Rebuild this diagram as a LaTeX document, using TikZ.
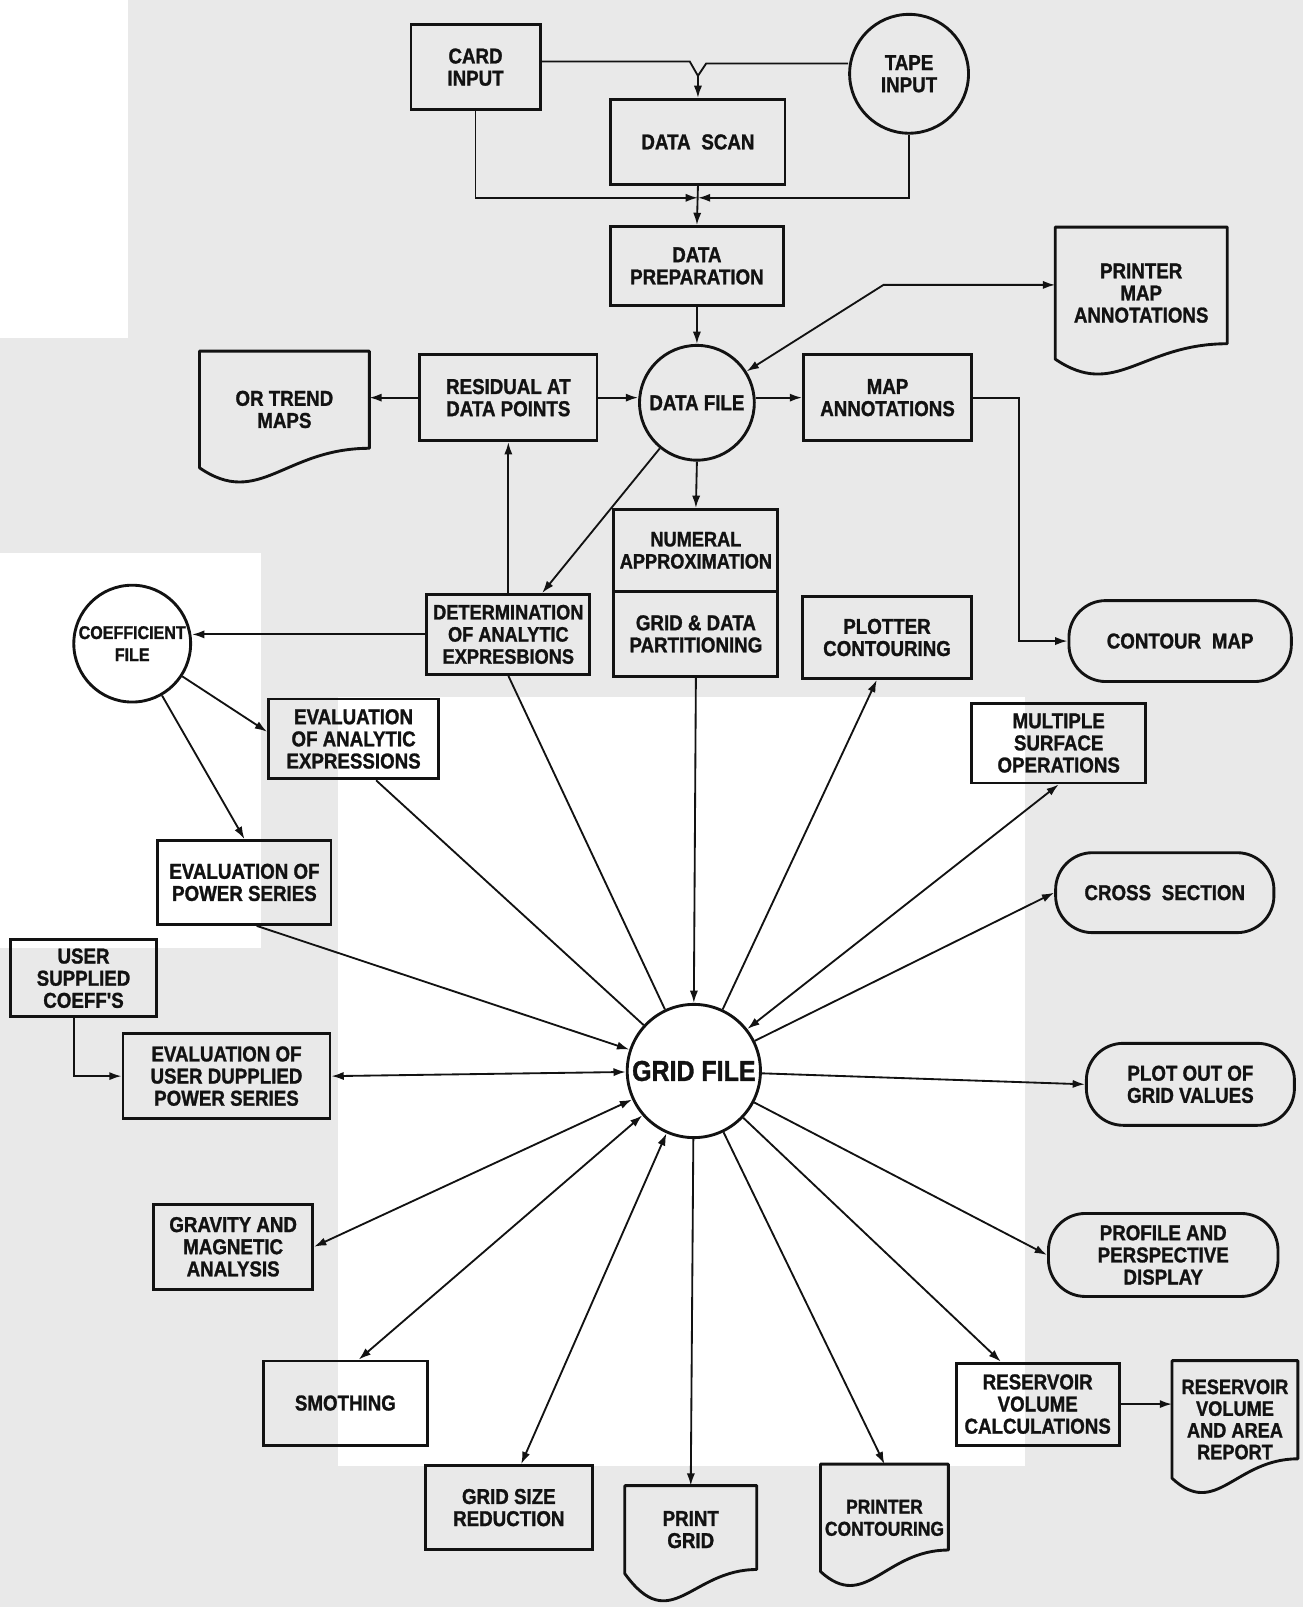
\documentclass[tikz,border=0pt]{standalone}
\usepackage{fontspec}
\newfontfamily\lblfont{Liberation Sans}[FakeStretch=0.87, BoldFeatures={FakeBold=1.2}]
\usetikzlibrary{arrows.meta,calc}
\definecolor{paper}{RGB}{233,233,233}
\definecolor{ink}{RGB}{18,18,18}
% #1 node, #2 rise of right end, #3 depth control of the wave
\newcommand\docpath[3]{\draw[docline] (#1.south west) -- (#1.north west) -- (#1.north east) -- ($(#1.south east)+(0,-#2)$) .. controls ($(#1.south)+(0,-#2)$) and ($(#1.south west)!0.35!(#1.south east)+(0,#3)$) .. (#1.south west) -- cycle;}
\begin{document}
\begin{tikzpicture}[x=0.5pt,y=-0.5pt,
  every node/.style={font=\lblfont\bfseries\fontsize{10.5}{10.8}\selectfont, text=ink, align=center, inner sep=0pt},
  box/.style={draw=ink, line width=1.4pt},
  circ/.style={draw=ink, circle, line width=1.4pt},
  stad/.style={draw=ink, line width=1.4pt, rounded corners=18pt},
  docline/.style={draw=ink, line width=1.4pt, line join=round},
  con/.style={draw=ink, line width=0.9pt},
  arr/.style={con, -{Latex[length=6pt,width=4pt]}},
  barr/.style={con, {Latex[length=6pt,width=4pt]}-{Latex[length=6pt,width=4pt]}},
]
\fill[paper] (0,0) rectangle (1271,1568);
\fill[white] (0,0) rectangle (125,330);
\fill[white] (0,540) rectangle (255,925);
\fill[white] (330,680) rectangle (1000,1430);
\useasboundingbox (0,0) rectangle (1271,1568);

% nodes
\node[box, minimum width=63pt, minimum height=41.5pt] (card) at (464,65.5) {CARD\\INPUT};
\node[circ, minimum size=58pt] (tape) at (887,72) {TAPE\\INPUT};
\node[box, minimum width=85pt, minimum height=41.5pt] (dscan) at (681,138.5) {DATA\enspace SCAN};
\node[box, minimum width=84.5pt, minimum height=38.5pt] (dprep) at (680,259.5) {DATA\\PREPARATION};
\node[circ, minimum size=56pt] (dfile) at (680,393) {DATA FILE};
\node[box, minimum width=82pt, minimum height=42pt] (mapann) at (866,388) {MAP\\ANNOTATIONS};
\node[box, minimum width=86.5pt, minimum height=42pt] (resid) at (496,388) {RESIDUAL AT\\DATA POINTS};
\node[minimum width=82.5pt, minimum height=56.5pt] (trend) at (277.5,399.5) {OR TREND\\MAPS};
\node[minimum width=83.5pt, minimum height=64pt] (pmap) at (1113.5,286) {PRINTER\\MAP\\ANNOTATIONS};
\node[stad, minimum width=108.5pt, minimum height=39.5pt] (contour) at (1151.5,625.5) {CONTOUR\enspace MAP};
\node[box, minimum width=80pt, minimum height=40pt, font=\lblfont\bfseries\fontsize{10.2}{10.8}\selectfont] (numa) at (679,537) {NUMERAL\\APPROXIMATION};
\node[box, minimum width=80pt, minimum height=41.5pt] (numb) at (679,618.5) {GRID \& DATA\\PARTITIONING};
\node[box, minimum width=79.5pt, minimum height=39pt, font=\lblfont\bfseries\fontsize{10.2}{10.8}\selectfont] (determ) at (496,619) {DETERMINATION\\OF ANALYTIC\\EXPRESBIONS};
\node[circ, minimum size=57pt, font=\lblfont\bfseries\fontsize{9}{10.8}\selectfont] (coef) at (129,628) {COEFFICIENT\\FILE};
\node[box, minimum width=82.5pt, minimum height=40pt] (plotter) at (865.5,622) {PLOTTER\\CONTOURING};
\node[box, minimum width=83pt, minimum height=39pt] (evalan) at (345,721) {EVALUATION\\OF ANALYTIC\\EXPRESSIONS};
\node[box, minimum width=85pt, minimum height=39pt] (multi) at (1033,725) {MULTIPLE\\SURFACE\\OPERATIONS};
\node[box, minimum width=84.5pt, minimum height=41pt] (evalps) at (238.5,861) {EVALUATION OF\\POWER SERIES};
\node[stad, minimum width=106.5pt, minimum height=39pt] (cross) at (1136.5,871) {CROSS\enspace SECTION};
\node[box, minimum width=71.5pt, minimum height=37.5pt] (user) at (81.5,954.5) {USER\\SUPPLIED\\COEFF'S};
\node[box, minimum width=101pt, minimum height=41.5pt] (evalus) at (221,1050) {EVALUATION OF\\USER DUPPLIED\\POWER SERIES};
\node[circ, minimum size=65pt, font=\lblfont\bfseries\fontsize{14}{15}\selectfont] (grid) at (677,1045) {GRID FILE};
\node[stad, minimum width=101.5pt, minimum height=40pt] (plotout) at (1161.5,1058) {PLOT OUT OF\\GRID VALUES};
\node[box, minimum width=77.5pt, minimum height=41.5pt] (grav) at (227.5,1216.5) {GRAVITY AND\\MAGNETIC\\ANALYSIS};
\node[stad, minimum width=112pt, minimum height=40.5pt] (profile) at (1135,1224.5) {PROFILE AND\\PERSPECTIVE\\DISPLAY};
\node[box, minimum width=80pt, minimum height=41pt] (smoth) at (337,1369) {SMOTHING};
\node[box, minimum width=79.5pt, minimum height=40pt] (rescalc) at (1012.5,1370) {RESERVOIR\\VOLUME\\CALCULATIONS};
\node[minimum width=61pt, minimum height=57pt, font=\lblfont\bfseries\fontsize{10.2}{10.6}\selectfont] (resrep) at (1205,1385) {RESERVOIR\\VOLUME\\AND AREA\\REPORT};
\node[box, minimum width=81.5pt, minimum height=41pt] (gsize) at (496.5,1471) {GRID SIZE\\REDUCTION};
\node[minimum width=64pt, minimum height=42.5pt] (pgrid) at (674,1492.5) {PRINT\\GRID};
\node[minimum width=62pt, minimum height=52pt, font=\lblfont\bfseries\fontsize{9.8}{10.8}\selectfont] (pcont) at (863,1481) {PRINTER\\CONTOURING};

% document outlines
\docpath{trend}{19}{40}
\docpath{pmap}{15}{40}
\docpath{resrep}{19}{40}
\docpath{pgrid}{4}{62}
\docpath{pcont}{21}{40}

% connectors
\coordinate (j1) at (673,60);
\coordinate (j2) at (689,62);
\coordinate (yj) at (681,74);
\draw[con] (card.east |- j1) -- (j1) -- (yj);
\draw[con] (tape.west |- j2) -- (j2) -- (yj);
\draw[arr] (yj) -- (dscan.north);
\coordinate (bus) at (681,193);
\draw[arr] (card.south) |- (bus);
\draw[arr] (tape.south) |- (bus);
\draw[arr] (dscan.south) -- (dprep.north);
\draw[arr] (dprep.south) -- (dfile.north);
\coordinate (pbend) at (862,278);
\draw[barr] (dfile) -- (pbend) -- (pbend -| pmap.west);
\draw[arr] (dfile.east |- mapann.west) -- (mapann.west);
\draw[arr] (resid.east) -- (resid.east -| dfile.west);
\draw[arr] (resid.west) -- (resid.west -| trend.east);
\draw[arr] (mapann.east) -- ++(45,0) |- (contour.west);
\draw[arr] (dfile.south) -- (numa.north);
\draw[arr] (determ.north) -- (resid.south);
\draw[arr] (dfile) -- ($(determ.north)+(33,0)$);
\draw[arr] (determ.west) -- (determ.west -| coef.east);
\draw[arr] (coef) -- ($(evalan.west)+(0,-7)$);
\draw[arr] (coef) -- (evalps.north);
\draw[con] ($(evalan.south)+(22,0)$) -- (grid);
\draw[con] (determ.south) -- (grid);
\draw[arr] (numb.south) -- (grid.north);
\draw[arr] (grid) -- ($(plotter.south)+(-10,0)$);
\draw[barr] (grid) -- (multi.south);
\draw[arr] (grid) -- (cross.west);
\draw[arr] (grid) -- (plotout.west);
\draw[arr] (grid) -- (profile.west);
\draw[arr] (grid) -- ($(rescalc.north)+(-36,0)$);
\draw[arr] (rescalc.east) -- (rescalc.east -| resrep.west);
\draw[arr] (grid) -- (pcont.north);
\draw[arr] (grid) -- (pgrid.north);
\draw[barr] (grid) -- ($(gsize.north)+(12,0)$);
\draw[barr] (grid) -- ($(smoth.north)+(13,0)$);
\draw[barr] (grid) -- (grav.east);
\draw[barr] (evalus.east) -- (grid);
\draw[arr] ($(evalps.south)+(12,0)$) -- (grid);
\draw[arr] ($(user.south)+(-9,0)$) |- (evalus.west);
\end{tikzpicture}
\end{document}
